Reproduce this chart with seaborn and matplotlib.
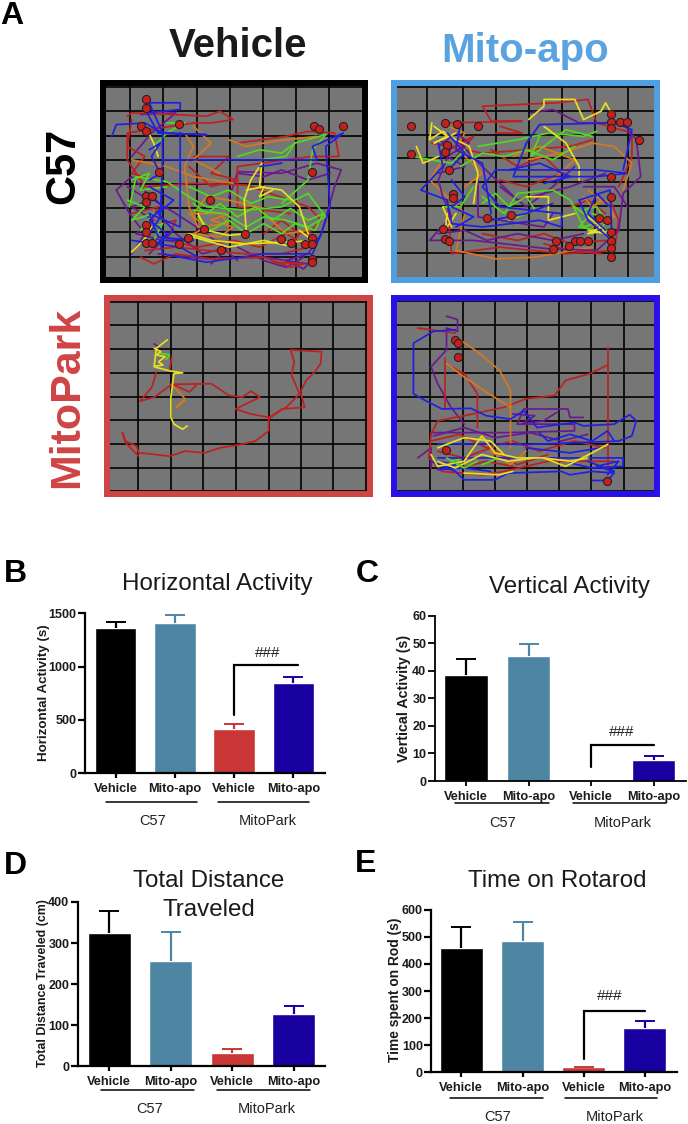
import pandas as pd
import matplotlib.pyplot as plt
import seaborn as sns
from matplotlib.lines import Line2D

W, H = 688, 1124

# bar data
GROUPS = ['C57 Vehicle', 'C57 Mito-apo', 'MitoPark Vehicle', 'MitoPark Mito-apo']
BAR_LABELS = ['Vehicle', 'Mito-apo', 'Vehicle', 'Mito-apo']

HORIZONTAL_MEAN = [1365, 1405, 420, 850]
HORIZONTAL_TOP = [1420, 1480, 462, 906]
VERTICAL_MEAN = [38.3, 45.4, 0, 7.5]
VERTICAL_TOP = [44.4, 49.6, 0, 9.1]
DISTANCE_MEAN = [325, 257, 32, 128]
DISTANCE_TOP = [379, 326, 41, 148]
ROTAROD_MEAN = [460, 484, 18, 164]
ROTAROD_TOP = [535, 556, 21, 188]

HORIZONTAL_TICKS = [0, 500, 1000, 1500]
VERTICAL_TICKS = [0, 10, 20, 30, 40, 50, 60]
DISTANCE_TICKS = [0, 100, 200, 300, 400]
ROTAROD_TICKS = [0, 100, 200, 300, 400, 500, 600]

# open field tracks
C57_VEHICLE_TRACKS = {
    'purple': [
        [(300, 760), (330, 700), (295, 640), (265, 570), (300, 530), (350, 600), (400, 640), (470, 700), (540, 780)],
        [(360, 760), (470, 775), (600, 770), (700, 790), (690, 805), (650, 780), (700, 760), (730, 700), (760, 560),
         (775, 510), (720, 490), (640, 520), (540, 515), (530, 560), (520, 590)],
        [(320, 345), (400, 340), (345, 400), (300, 470)],
        [(290, 560), (340, 600), (300, 620), (350, 660), (310, 700), (370, 720), (340, 760)],
        [(540, 740), (600, 780), (650, 800), (690, 770)],
        [(540, 520), (600, 530), (640, 510), (700, 540), (750, 520)],
        [(400, 700), (460, 760), (520, 740), (480, 790)],
    ],
    'red': [
        [(290, 350), (300, 340), (400, 345), (470, 350), (500, 335), (530, 360), (480, 370), (440, 370), (290, 400),
         (290, 480), (330, 560), (440, 550), (560, 555), (700, 620), (730, 660), (700, 700), (620, 690)],
        [(540, 430), (650, 410), (700, 395), (760, 400), (770, 470), (710, 470), (650, 480), (540, 500), (540, 620),
         (660, 640)],
        [(320, 770), (350, 790), (400, 760), (480, 775), (600, 770), (660, 800), (690, 790), (620, 785)],
        [(300, 640), (360, 620), (340, 680), (400, 660), (380, 720), (450, 740), (530, 720), (590, 740), (650, 700),
         (700, 740), (640, 760), (560, 760), (470, 750), (400, 740), (330, 750)],
        [(440, 470), (520, 470), (480, 520), (540, 540), (480, 560), (430, 500)],
        [(600, 700), (640, 660), (680, 700), (660, 740)],
        [(300, 360), (290, 440), (330, 470), (300, 520), (350, 540)],
    ],
    'orange': [
        [(420, 400), (440, 440), (420, 500), (430, 620), (450, 680), (520, 670), (500, 640), (440, 640), (470, 590),
         (520, 600), (600, 625)],
        [(520, 420), (560, 440), (620, 425), (720, 410)],
        [(300, 480), (380, 500), (440, 530), (530, 550)],
        [(430, 640), (470, 680), (440, 700), (500, 710), (530, 680), (480, 660), (520, 640)],
        [(440, 380), (480, 430), (440, 480), (500, 520)],
        [(600, 640), (650, 700), (700, 690)],
    ],
    'green': [
        [(295, 620), (310, 530), (380, 545), (430, 590), (470, 620), (560, 630), (640, 620), (700, 580), (740, 650),
         (700, 680), (650, 660), (600, 650), (560, 680), (510, 640), (440, 630)],
        [(380, 370), (420, 370), (380, 400), (350, 440)],
        [(590, 480), (650, 470), (670, 430), (740, 405), (710, 450), (700, 540), (640, 610)],
        [(440, 610), (470, 640), (500, 610), (540, 650), (580, 620), (620, 660), (660, 625), (700, 660), (735, 640),
         (715, 690), (670, 670), (640, 700), (600, 670), (560, 700), (520, 660), (480, 690), (450, 650)],
        [(290, 600), (330, 620), (300, 660), (350, 640), (320, 690), (370, 670), (350, 720)],
        [(430, 560), (480, 590), (520, 570), (570, 610), (610, 590), (660, 600)],
        [(540, 470), (590, 450), (640, 460), (670, 430)],
        [(300, 540), (340, 520), (320, 570), (380, 560)],
    ],
    'yellow': [
        [(300, 755), (330, 715), (345, 680)],
        [(430, 700), (480, 720), (560, 730), (660, 725), (710, 720), (680, 690)],
        [(450, 640), (470, 690), (520, 705), (560, 700), (555, 600), (570, 540), (595, 490), (590, 560), (640, 570),
         (680, 620), (700, 700)],
        [(335, 390), (350, 430), (360, 470)],
        [(440, 710), (520, 740), (600, 720), (650, 735)],
        [(560, 570), (600, 560), (590, 590), (620, 570)],
    ],
    'blue': [
        [(255, 410), (265, 375), (330, 370), (370, 400), (470, 405), (360, 400), (335, 340), (410, 330), (410, 310),
         (340, 310), (370, 400), (370, 480), (720, 480), (710, 440), (780, 400), (740, 440), (750, 620), (730, 700),
         (710, 760), (600, 760), (470, 785), (370, 760), (365, 720), (440, 720), (360, 710), (340, 640), (410, 680),
         (410, 400)],
        [(370, 480), (365, 650), (340, 700)],
        [(590, 500), (640, 490)],
        [(340, 580), (370, 620), (340, 660), (380, 700), (350, 740), (395, 690), (360, 640), (395, 600), (340, 560)],
        [(300, 720), (410, 740), (450, 770)],
        [(340, 450), (365, 430), (345, 470), (365, 520), (340, 540)],
    ],
}
C57_VEHICLE_DOTS = [(333, 300), (333, 325), (322, 380), (333, 393), (408, 372), (713, 380), (724, 388), (780, 380),
                    (362, 516), (709, 516), (333, 587), (345, 587), (333, 605), (478, 600), (333, 675), (333, 695),
                    (465, 685), (558, 702), (427, 713), (333, 728), (345, 728), (408, 730), (503, 748), (638, 716),
                    (662, 728), (692, 730), (709, 712), (709, 730), (709, 775), (709, 785)]

C57_MITO_TRACKS = {
    'red': [
        [(1010, 370), (1190, 365), (1120, 365), (1100, 320), (1270, 310), (1340, 300), (1360, 370), (1440, 400),
         (1440, 470), (1410, 560)],
        [(985, 430), (1100, 460), (1300, 440), (1350, 420)],
        [(1020, 600), (1030, 760), (1140, 740), (1290, 760), (1400, 750), (1410, 660), (1390, 600)],
        [(1140, 380), (1190, 400), (1130, 400)],
        [(1010, 400), (1060, 430), (1020, 450), (1080, 410), (1040, 470)],
        [(1100, 700), (1180, 720), (1240, 700), (1300, 730), (1380, 720)],
        [(1120, 450), (1180, 500), (1240, 470), (1280, 520), (1200, 560), (1140, 540)],
        [(1300, 620), (1340, 600), (1380, 640)],
        [(1240, 730), (1300, 750), (1370, 760)],
    ],
    'orange': [
        [(1010, 480), (980, 540), (1060, 640), (1040, 750), (1130, 775), (1220, 770), (1350, 740)],
        [(1200, 480), (1280, 460), (1350, 430), (1400, 440), (1440, 490), (1420, 570)],
        [(1060, 470), (1100, 520), (1060, 560)],
        [(1340, 570), (1370, 600), (1350, 620), (1330, 590)],
        [(1020, 380), (1060, 400), (1040, 450)],
        [(1170, 470), (1230, 440), (1310, 480), (1260, 540)],
        [(1330, 630), (1380, 600), (1400, 650), (1350, 680)],
    ],
    'purple': [
        [(1210, 340), (1260, 330), (1320, 370), (1420, 370), (1450, 420), (1460, 530), (1420, 580), (1410, 690),
         (1360, 750), (1250, 745), (1080, 720), (980, 720), (1000, 690), (1030, 650), (1010, 590), (1000, 540),
         (1030, 440), (1000, 420)],
        [(1040, 420), (1100, 500), (1180, 600), (1300, 560), (1380, 520)],
        [(1090, 540), (1090, 650), (1240, 680), (1260, 640)],
        [(1000, 440), (1040, 400), (1070, 430), (1020, 470), (1060, 500), (1000, 520)],
        [(1000, 700), (1060, 690), (1110, 720), (1180, 700), (1260, 720), (1330, 700)],
        [(1140, 560), (1200, 620), (1260, 560), (1310, 500)],
        [(1330, 560), (1400, 560), (1430, 620)],
    ],
    'green': [
        [(1010, 620), (1050, 620), (1080, 560)],
        [(1090, 440), (1180, 420), (1250, 400), (1330, 410), (1360, 395)],
        [(1100, 590), (1150, 640), (1180, 580), (1260, 570), (1300, 600), (1330, 680), (1380, 660), (1360, 620),
         (1330, 630), (1390, 700)],
        [(940, 470), (1030, 490), (1060, 450)],
        [(1100, 610), (1130, 580), (1160, 620), (1200, 590), (1220, 630), (1160, 660)],
        [(1310, 620), (1340, 650), (1320, 680), (1360, 690), (1390, 660), (1350, 640)],
        [(1050, 500), (1100, 460), (1150, 470), (1200, 450), (1260, 480), (1310, 440)],
        [(1230, 410), (1210, 470), (1290, 390), (1350, 410)],
    ],
    'yellow': [
        [(985, 370), (980, 420), (1010, 395), (1040, 420), (1070, 440), (1090, 520), (1080, 610)],
        [(1205, 360), (1240, 320), (1240, 300), (1310, 300), (1330, 360), (1370, 335), (1380, 310), (1395, 345)],
        [(1240, 380), (1290, 430), (1320, 500), (1320, 540)],
        [(1200, 590), (1250, 590), (1250, 660), (1310, 640)],
        [(950, 440), (965, 490), (1000, 470)],
        [(1010, 620), (1030, 680)],
        [(1340, 690), (1380, 700), (1360, 660)],
        [(990, 380), (1020, 410), (990, 430), (1040, 400)],
        [(1020, 640), (1015, 690), (1040, 640)],
        [(1340, 650), (1370, 680), (1340, 700), (1390, 690)],
    ],
    'blue': [
        [(1000, 430), (1010, 500), (960, 570), (1020, 600), (1030, 670), (1100, 680), (1230, 660), (1280, 680),
         (1280, 640), (1140, 620), (1100, 560), (1130, 510), (1360, 510), (1430, 520), (1360, 530), (1170, 530),
         (1200, 430), (1230, 375), (1400, 370), (1440, 390), (1420, 510)],
        [(1320, 600), (1390, 570), (1395, 720), (1340, 660), (1320, 600)],
        [(1050, 370), (1040, 450), (1100, 490), (1120, 640)],
        [(1030, 540), (1060, 590), (1030, 620), (1080, 650), (1040, 680)],
        [(1020, 400), (1060, 460), (1030, 500)],
        [(1160, 510), (1230, 490), (1300, 530), (1240, 550)],
        [(1390, 620), (1360, 580), (1340, 640), (1380, 690)],
        [(1120, 660), (1200, 640), (1260, 610)],
    ],
}
C57_MITO_DOTS = [(938, 378), (1015, 370), (1043, 373), (1091, 380), (1393, 342), (1393, 368), (1412, 368), (1428, 368),
                 (1393, 385), (1455, 422), (1020, 435), (1015, 458), (938, 462), (1024, 510), (1393, 532), (1034, 583),
                 (1034, 595), (1393, 590), (1110, 652), (1166, 643), (1364, 652), (1383, 658), (1010, 687), (1393, 695),
                 (1015, 717), (1023, 722), (1268, 722), (1310, 722), (1322, 722), (1340, 722), (1393, 722), (1260, 745),
                 (1298, 737), (1393, 742), (1393, 770)]

MITOPARK_VEHICLE_TRACKS = {
    'red': [
        [(660, 200), (730, 205), (728, 240), (715, 265), (695, 290), (682, 325), (692, 370), (640, 375), (610, 405),
         (610, 440), (580, 470), (540, 482), (500, 490), (465, 505), (420, 500), (385, 515), (340, 508), (315, 505),
         (310, 485), (285, 470), (278, 445), (285, 475), (315, 515)],
        [(660, 200), (668, 235), (662, 275), (680, 330), (650, 370), (610, 400), (590, 395), (570, 390), (535, 375),
         (590, 340), (570, 322), (550, 340), (520, 335), (480, 300), (390, 302), (350, 340), (318, 352), (345, 310),
         (355, 265)],
        [(385, 262), (390, 220)],
        [(390, 300), (430, 325), (445, 305)],
    ],
    'orange': [[(395, 310), (410, 330), (420, 345), (400, 370), (420, 350)]],
    'green': [[(365, 210), (385, 215), (378, 228)]],
    'purple': [[(350, 182), (360, 190)]],
    'yellow': [
        [(380, 170), (355, 195), (350, 250), (385, 262), (415, 268), (395, 270), (388, 340), (388, 400), (395, 420),
         (415, 435), (425, 425)],
        [(350, 195), (365, 205), (355, 215), (375, 220), (360, 235), (370, 245), (352, 248)],
    ],
}

MITOPARK_MITO_TRACKS = {
    'purple': [
        [(1020, 100), (1045, 110), (1045, 145), (1020, 135), (1020, 200), (985, 250), (1000, 300), (1030, 370),
         (1060, 420)],
        [(985, 445), (1160, 445), (1310, 440), (1310, 420), (1180, 420), (1195, 375), (1295, 375), (1300, 400),
         (1330, 400)],
        [(955, 520), (985, 490), (985, 550)],
        [(990, 455), (1060, 430), (1130, 460), (1210, 445), (1280, 470), (1340, 450)],
        [(1170, 390), (1220, 395), (1190, 420), (1240, 410), (1270, 385)],
    ],
    'red': [
        [(1017, 225), (1017, 375)],
        [(1385, 195), (1385, 480), (1385, 560)],
        [(1385, 245), (1345, 270), (1290, 290), (1265, 335), (1200, 345), (1150, 370), (1060, 395), (1000, 410),
         (985, 450), (980, 520), (1010, 560), (1100, 570), (1150, 560), (1250, 530), (1400, 530)],
        [(955, 135), (1040, 150)],
        [(1030, 250), (1060, 270), (1090, 330), (1090, 430)],
        [(985, 470), (1050, 450), (1110, 490), (1170, 470), (1230, 500), (1310, 470), (1380, 490)],
        [(1000, 500), (1060, 520), (1120, 490), (1180, 540), (1250, 510)],
        [(1050, 550), (1110, 530), (1170, 545)],
    ],
    'orange': [
        [(1050, 170), (1090, 205), (1140, 260), (1165, 320), (1165, 490)],
        [(1020, 240), (1060, 280), (1110, 325), (1165, 370)],
        [(1120, 500), (1165, 540), (1200, 500)],
    ],
    'blue': [
        [(1040, 140), (990, 145), (945, 180), (945, 330), (975, 352), (1010, 375), (1075, 373), (1110, 395), (1165, 405),
         (1195, 380), (1225, 430), (1310, 415), (1330, 425), (1400, 420), (1435, 392), (1450, 410), (1440, 455),
         (1410, 470), (1250, 478), (1200, 480), (1000, 478)],
        [(985, 530), (1040, 560), (1060, 585), (1130, 585), (1160, 565), (1280, 560), (1300, 570), (1350, 560),
         (1400, 565), (1385, 587), (1350, 587)],
        [(1000, 520), (1420, 520), (1420, 545), (1350, 550), (1300, 535)],
        [(1000, 530), (1040, 540), (1000, 555), (1060, 550), (1120, 560)],
        [(1230, 445), (1250, 470), (1300, 450), (1350, 470), (1385, 440), (1400, 470)],
        [(1340, 530), (1400, 560), (1360, 545), (1410, 530), (1385, 570)],
        [(1200, 490), (1300, 505), (1370, 490)],
    ],
    'yellow': [
        [(985, 510), (1000, 545), (1060, 530), (1100, 455), (1130, 505), (1180, 520), (1240, 520), (1290, 545),
         (1350, 505), (1385, 480)],
        [(1060, 565), (1140, 570), (1170, 560)],
        [(1000, 490), (1060, 460), (1120, 470), (1150, 510)],
        [(1000, 530), (1040, 550), (1100, 510), (1160, 530), (1220, 520)],
        [(1240, 520), (1300, 530), (1340, 520)],
    ],
    'green': [
        [(1030, 530), (1050, 525)],
        [(1100, 540), (1130, 525)],
        [(1020, 520), (1060, 550), (1090, 530)],
    ],
}
MITOPARK_MITO_DOTS = [(1040, 170), (1045, 180), (1045, 222), (1018, 498), (1384, 587)]

# arena grid lines
GRID_1_X = [297, 372, 447, 522, 597, 672, 747]
GRID_1_Y = [262, 335, 408, 480, 552, 624, 696, 768]
GRID_2_X = [975, 1055, 1130, 1205, 1280, 1355, 1430]
GRID_2_Y = [262, 333, 405, 475, 547, 617, 688, 758]
GRID_3_X = [314, 388, 462, 535, 610, 683, 757, 832]
GRID_3_Y = [57, 127, 198, 268, 338, 408, 480, 550, 618]
GRID_4_X = [982, 1057, 1130, 1203, 1276, 1348, 1422]
GRID_4_Y = [55, 125, 197, 267, 338, 410, 480, 550, 617]

TRACK_COLORS = {'purple': '#6a1a90', 'red': '#bf2020', 'orange': '#d8781e',
                'green': '#52d820', 'yellow': '#e6e020', 'blue': '#2020e0'}
BAR_COLORS = ['#000000', '#4e85a3', '#c93636', '#1800a0']
FONT = 'Liberation Sans'

sns.set_theme(style='white')
plt.rcParams['font.family'] = [FONT, 'DejaVu Sans']
fig = plt.figure(figsize=(W / 100, H / 100), dpi=100)


def add_axes_px(left, top, right, bottom):
    return fig.add_axes([left / W, 1 - bottom / H, (right - left) / W, (bottom - top) / H])


def text_px(x, y, s, **kw):
    kw.setdefault('ha', 'center')
    kw.setdefault('va', 'baseline')
    kw.setdefault('color', '#1a1a1a')
    fig.text(x / W, 1 - y / H, s, **kw)


def draw_arena(box, zoom_x, zoom_y, frame, grid_x, grid_y, tracks, dots):
    ax = add_axes_px(*box)
    ax.set_facecolor('#767676')
    for name, paths in tracks.items():
        for path in paths:
            sns.lineplot(x=[p[0] for p in path], y=[p[1] for p in path], sort=False, estimator=None,
                         color=TRACK_COLORS[name], lw=1.25, ax=ax, zorder=3)
    if dots:
        sns.scatterplot(x=[p[0] for p in dots], y=[p[1] for p in dots], color='#c81e1e', edgecolor='#222222',
                        linewidth=0.8, s=34, ax=ax, zorder=4)
    ax.set_xlim(*zoom_x)
    ax.set_ylim(*zoom_y)
    ax.set_xticks(grid_x)
    ax.set_yticks(grid_y)
    ax.set_xticklabels([])
    ax.set_yticklabels([])
    ax.set_xlabel('')
    ax.set_ylabel('')
    ax.tick_params(length=0)
    ax.grid(True, color='#0a0a0a', lw=1.3, zorder=1)
    ax.set_axisbelow(True)
    for spine in ax.spines.values():
        spine.set_visible(True)
        spine.set_color(frame)
        spine.set_linewidth(4.3)
    return ax


draw_arena((103, 83, 365, 280), (235, 829), (838, 251), '#000000', GRID_1_X, GRID_1_Y,
           C57_VEHICLE_TRACKS, C57_VEHICLE_DOTS)
draw_arena((394, 83, 657, 280), (899, 1497), (838, 251), '#4f9fe0', GRID_2_X, GRID_2_Y,
           C57_MITO_TRACKS, C57_MITO_DOTS)
draw_arena((107, 298, 370, 494), (243, 840), (627, 46), '#cf4444', GRID_3_X, GRID_3_Y,
           MITOPARK_VEHICLE_TRACKS, None)
draw_arena((394, 298, 657, 494), (901, 1497), (627, 46), '#2a10e8', GRID_4_X, GRID_4_Y,
           MITOPARK_MITO_TRACKS, MITOPARK_MITO_DOTS)

text_px(238, 57, 'Vehicle', fontsize=29, fontweight='bold')
text_px(525, 62, 'Mito-apo', fontsize=29, fontweight='bold', color='#5ba3e0')
text_px(74, 166, 'C57', fontsize=30, fontweight='bold', color='#000000', rotation=90,
        rotation_mode='anchor')
text_px(78, 397, 'MitoPark', fontsize=31, fontweight='bold', color='#cf4444', rotation=90,
        rotation_mode='anchor')

for x, y, letter in [(12, 24, 'A'), (15, 582, 'B'), (367, 582, 'C'), (15, 874, 'D'), (366, 872, 'E')]:
    text_px(x, y, letter, fontsize=23, fontweight='bold', color='#000000')


def draw_bars(box, centers, means, tops, ticks, ylabel, ylabel_x, ylabel_y, ylabel_size, axis_lw=1.6):
    ax = add_axes_px(*box)
    df = pd.DataFrame({'group': GROUPS, 'mean': means})
    sns.barplot(data=df, x='group', y='mean', hue='group', order=GROUPS, hue_order=GROUPS,
                palette=BAR_COLORS, legend=False, dodge=False, width=0.7, saturation=1, ax=ax)
    for i in range(len(GROUPS)):
        if tops[i] > means[i]:
            _, caps, _ = ax.errorbar(i, means[i], yerr=[[0], [tops[i] - means[i]]], color=BAR_COLORS[i],
                                     capsize=7.5, capthick=1.4, elinewidth=1.6, zorder=2)
            caps[0].set_visible(False)
    sns.despine(ax=ax)
    step = centers[1] - centers[0]
    ax.set_xlim((box[0] - centers[0]) / step, (box[2] - centers[0]) / step)
    ax.set_ylim(ticks[0], ticks[-1])
    ax.set_xticks(range(4))
    ax.set_xticklabels(BAR_LABELS, fontsize=9.2, fontweight='bold', color='#1a1a1a')
    ax.set_yticks(ticks)
    ax.set_yticklabels([str(t) for t in ticks], fontsize=9, fontweight='bold', color='#1a1a1a')
    ax.tick_params(axis='y', left=True, length=5, width=axis_lw, pad=1, color='black')
    ax.tick_params(axis='x', bottom=True, length=3.5, width=axis_lw, pad=3.5, color='black')
    for side in ['left', 'bottom']:
        ax.spines[side].set_color('black')
        ax.spines[side].set_linewidth(axis_lw)
    ax.set_xlabel('')
    ax.set_ylabel('')
    text_px(ylabel_x, ylabel_y, ylabel, fontsize=ylabel_size, fontweight='bold', rotation=90, va='center')
    return ax


def bracket(ax, x0, x1, low, high, mark_x, mark_y):
    ax.plot([x0, x0, x1], [low, high, high], color='black', lw=1.6, solid_joinstyle='miter', zorder=5)
    ax.text(mark_x, mark_y, '###', fontsize=11, ha='center', va='center', color='#222222')


def group_lines(y, spans, labels_x, label_y):
    for (x0, x1), x, name in zip(spans, labels_x, ['C57', 'MitoPark']):
        fig.add_artist(Line2D([x0 / W, x1 / W], [1 - y / H, 1 - y / H], color='black', lw=1.1))
        text_px(x, label_y, name, fontsize=10.5, color='#222222')


ax = draw_bars((85, 613.3, 325, 773.3), [115.5, 174.8], HORIZONTAL_MEAN, HORIZONTAL_TOP, HORIZONTAL_TICKS,
               'Horizontal Activity (s)', 44, 693, 9.6)
bracket(ax, 2, 3.08, 547, 1016, 2.57, 1125)
group_lines(801.7, [(106, 197), (218, 309)], [153, 268], 825)
text_px(217, 590, 'Horizontal Activity', fontsize=17.4)

ax = draw_bars((434.7, 615.7, 685.7, 781), [466, 528.5], VERTICAL_MEAN, VERTICAL_TOP, VERTICAL_TICKS,
               'Vertical Activity (s)', 404, 698, 10.3, axis_lw=1.3)
bracket(ax, 2, 3, 5.2, 13, 2.49, 17.9)
group_lines(803, [(454.7, 549), (573, 665.7)], [503, 622.7], 827)
text_px(569.5, 592.7, 'Vertical Activity', fontsize=17.4)

ax = draw_bars((77.7, 902, 325, 1066.3), [109.3, 170.7], DISTANCE_MEAN, DISTANCE_TOP, DISTANCE_TICKS,
               'Total Distance Traveled (cm)', 43, 983.5, 8.9)
group_lines(1090, [(101, 194), (217, 310)], [150, 267], 1113)
text_px(209, 887, 'Total Distance', fontsize=17.4)
text_px(209, 916, 'Traveled', fontsize=17.4)

ax = draw_bars((431.3, 909.7, 676.7, 1072.3), [461.3, 522.5], ROTAROD_MEAN, ROTAROD_TOP, ROTAROD_TICKS,
               'Time spent on Rod (s)', 395, 990, 9.9)
bracket(ax, 2, 3, 49, 227.5, 2.42, 282)
group_lines(1097.7, [(450, 543), (565, 657)], [498, 615], 1121)
text_px(557.5, 886.7, 'Time on Rotarod', fontsize=17.4)

fig.savefig('out.png', dpi=100)
